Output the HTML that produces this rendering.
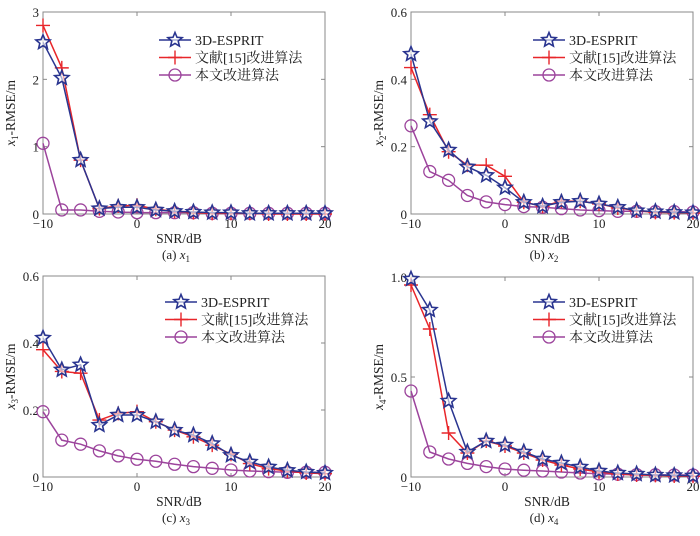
<!DOCTYPE html>
<html><head><meta charset="utf-8"><style>
body{margin:0;background:#fff}
svg{display:block}
text{font-family:"Liberation Serif","Noto Serif CJK SC",serif;fill:#222}
</style></head><body>
<svg id="c" width="700" height="536"></svg>
<script>
const snr=[-10,-8,-6,-4,-2,0,2,4,6,8,10,12,14,16,18,20];
const xTicks=[-10,0,10,20];
const seriesNames=["3D-ESPRIT","文献[15]改进算法","本文改进算法"];
const a_esprit=[2.55,2.02,0.8,0.08,0.1,0.1,0.06,0.04,0.03,0.02,0.02,0.01,0.01,0.01,0.01,0.01];
const a_ref15=[2.8,2.17,0.8,0.08,0.12,0.13,0.07,0.04,0.02,0.01,0.01,0.01,0,0,0,0];
const a_prop=[1.05,0.06,0.06,0.04,0.03,0.02,0.02,0.02,0.02,0.01,0.01,0.01,0.01,0.01,0.01,0.01];
const b_esprit=[0.475,0.275,0.19,0.14,0.115,0.078,0.035,0.023,0.035,0.038,0.03,0.02,0.01,0.007,0.005,0.004];
const b_ref15=[0.435,0.295,0.185,0.145,0.145,0.112,0.035,0.023,0.038,0.038,0.03,0.018,0.01,0.005,0.004,0.003];
const b_prop=[0.262,0.126,0.1,0.055,0.036,0.028,0.022,0.02,0.016,0.012,0.01,0.008,0.008,0.007,0.007,0.006];
const c_esprit=[0.415,0.32,0.335,0.155,0.185,0.185,0.165,0.14,0.125,0.1,0.065,0.045,0.03,0.02,0.015,0.012];
const c_ref15=[0.38,0.315,0.31,0.17,0.19,0.195,0.165,0.14,0.12,0.095,0.068,0.04,0.025,0.018,0.012,0.01];
const c_prop=[0.195,0.11,0.098,0.078,0.063,0.053,0.047,0.038,0.031,0.026,0.021,0.018,0.016,0.014,0.014,0.014];
const d_esprit=[0.99,0.835,0.38,0.125,0.18,0.16,0.125,0.09,0.07,0.05,0.03,0.02,0.015,0.01,0.008,0.006];
const d_ref15=[0.96,0.74,0.22,0.12,0.18,0.155,0.12,0.085,0.06,0.04,0.025,0.015,0.01,0.008,0.005,0.004];
const d_prop=[0.43,0.125,0.09,0.068,0.052,0.04,0.034,0.03,0.025,0.02,0.016,0.014,0.012,0.011,0.01,0.01];
const a_yTicks=["0","1","2","3"], b_yTicks=["0","0.2","0.4","0.6"], c_yTicks=["0","0.2","0.4","0.6"], d_yTicks=["0","0.5","1.0"];

const NS="http://www.w3.org/2000/svg";
const svg=document.getElementById("c");
function el(t,at,p){const e=document.createElementNS(NS,t);for(const k in at)e.setAttribute(k,at[k]);(p||svg).appendChild(e);return e;}
const COL=["#2a3590","#e8262a","#9c449c"];
const MR=[7.5,7,6];
function star(g,x,y,r,col){let p=[];for(let i=0;i<10;i++){const rr=i%2?r*0.45:r;const a=-Math.PI/2+i*Math.PI/5;p.push((x+rr*Math.cos(a)).toFixed(1)+","+(y+rr*Math.sin(a)).toFixed(1));}
 const s=el("polygon",{points:p.join(" "),fill:"#fff","fill-opacity":"0.6",stroke:col,"stroke-width":1.6},g);}
function plus(g,x,y,r,col){const s=el("path",{d:`M${x-r},${y}H${x+r}M${x},${y-r}V${y+r}`,stroke:col,"stroke-width":1.4},g);}
function circ(g,x,y,r,col){const s=el("circle",{cx:x,cy:y,r:r,fill:"none",stroke:col,"stroke-width":1.3},g);}
const MK=[star,plus,circ];

function panel(id,L,T,R,B,ymax,yTicks,series,sub,lx,ly,capLetter){
 const g=el("g",{});
 const X=v=>L+(v+10)/30*(R-L), Y=v=>B-v/ymax*(B-T);
 const fr=el("rect",{x:L,y:T,width:R-L,height:B-T,fill:"none",stroke:"#888","stroke-width":1},g);
 xTicks.forEach(v=>{el("line",{x1:X(v),x2:X(v),y1:B,y2:B-4,stroke:"#888"},g);el("line",{x1:X(v),x2:X(v),y1:T,y2:T+4,stroke:"#888"},g);
  const t=el("text",{x:X(v),y:B+14,"text-anchor":"middle","font-size":13},g);t.textContent=v<0?"−"+(-v):v;});
 yTicks.forEach(s=>{const v=parseFloat(s);el("line",{x1:L,x2:L+4,y1:Y(v),y2:Y(v),stroke:"#888"},g);el("line",{x1:R,x2:R-4,y1:Y(v),y2:Y(v),stroke:"#888"},g);
  const t=el("text",{x:L-4,y:Y(v)+5,"text-anchor":"end","font-size":13},g);t.textContent=s;});
 const xt=el("text",{x:(L+R)/2-5,y:B+29,"text-anchor":"middle","font-size":13.5},g);xt.textContent="SNR/dB";
 const yt=el("text",{transform:`translate(${L-28},${(T+B)/2}) rotate(-90)`,"text-anchor":"middle","font-size":13.5},g);
 yt.innerHTML=`<tspan font-style="italic">x</tspan><tspan font-size="9" dy="3">${sub}</tspan><tspan dy="-3">-RMSE/m</tspan>`;
 const cp=el("text",{x:(L+R)/2-8,y:B+45,"text-anchor":"middle","font-size":13},g);
 cp.innerHTML=`(${capLetter}) <tspan font-style="italic">x</tspan><tspan font-size="9" dy="3">${sub}</tspan>`;
 [2,1,0].forEach(i=>{const d=series[i];const pts=snr.map((s,j)=>X(s)+","+Y(d[j])).join(" ");
  const pl=el("polyline",{points:pts,fill:"none",stroke:COL[i],"stroke-width":1.5},g);
  snr.forEach((s,j)=>MK[i](g,X(s),Y(d[j]),MR[i],COL[i]));});
 seriesNames.forEach((n,i)=>{const y=ly+i*17.5;const lg=el("g",{},g);
  el("line",{x1:lx,x2:lx+32,y1:y,y2:y,stroke:COL[i],"stroke-width":1.5},lg);MK[i](lg,lx+16,y,MR[i],COL[i]);
  const t=el("text",{x:lx+36,y:y+5,"font-size":14},lg);t.textContent=n;});
}
panel("a",43,12,325,214,3,a_yTicks,[a_esprit,a_ref15,a_prop],"1",159,40,"a");
panel("b",411,12,693,214,0.6,b_yTicks,[b_esprit,b_ref15,b_prop],"2",533,40,"b");
panel("c",43,276,325,477,0.6,c_yTicks,[c_esprit,c_ref15,c_prop],"3",165,302,"c");
panel("d",411,277,693,477,1,d_yTicks,[d_esprit,d_ref15,d_prop],"4",533,302,"d");
</script>
</body></html>
